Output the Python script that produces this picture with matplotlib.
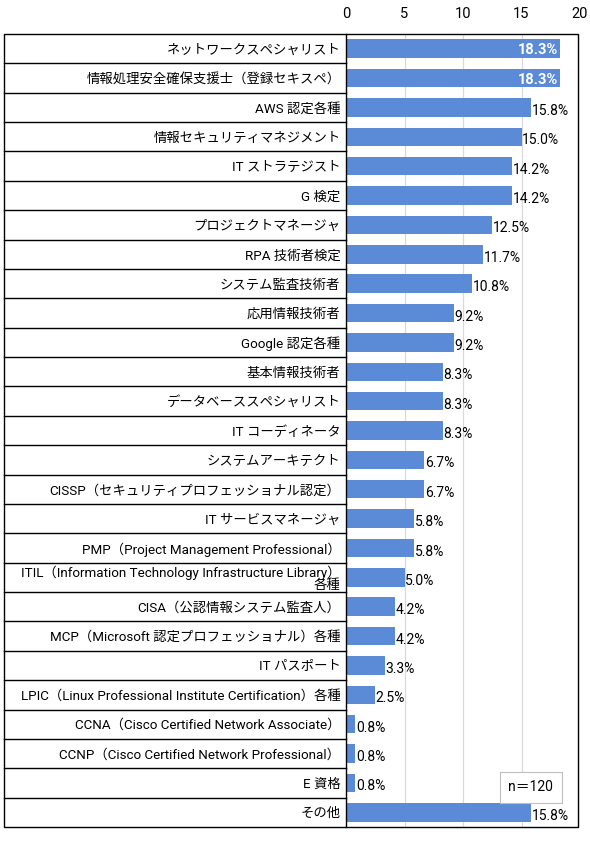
import matplotlib
matplotlib.use("Agg")
import matplotlib.pyplot as plt
from matplotlib.patches import Rectangle

plt.rcParams['font.family'] = ['Roboto', 'Noto Sans CJK JP', 'DejaVu Sans']

# 資格の名前と割合 (%)
labels = [
    "ネットワークスペシャリスト",
    "情報処理安全確保支援士（登録セキスペ）",
    "AWS 認定各種",
    "情報セキュリティマネジメント",
    "IT ストラテジスト",
    "G 検定",
    "プロジェクトマネージャ",
    "RPA 技術者検定",
    "システム監査技術者",
    "応用情報技術者",
    "Google 認定各種",
    "基本情報技術者",
    "データベーススペシャリスト",
    "IT コーディネータ",
    "システムアーキテクト",
    "CISSP（セキュリティプロフェッショナル認定）",
    "IT サービスマネージャ",
    "PMP（Project Management Professional）",
    "ITIL（Information Technology Infrastructure Library）\n各種",
    "CISA（公認情報システム監査人）",
    "MCP（Microsoft 認定プロフェッショナル）各種",
    "IT パスポート",
    "LPIC（Linux Professional Institute Certification）各種",
    "CCNA（Cisco Certified Network Associate）",
    "CCNP（Cisco Certified Network Professional）",
    "E 資格",
    "その他",
]
values = [18.3, 18.3, 15.8, 15.0, 14.2, 14.2, 12.5, 11.7, 10.8, 9.2, 9.2, 8.3, 8.3,
          8.3, 6.7, 6.7, 5.8, 5.8, 5.0, 4.2, 4.2, 3.3, 2.5, 0.8, 0.8, 0.8, 15.8]
xticks = [0, 5, 10, 15, 20]

W, H = 590, 847
fig = plt.figure(figsize=(W / 100, H / 100), dpi=100)
left, right, top, bottom = 346, 580, 34, 827
ax = fig.add_axes([left / W, 1 - bottom / H, (right - left) / W, (bottom - top) / H])

ypos = list(range(len(labels)))
ax.barh(ypos, values, height=0.63, color="#5b8bd6", zorder=2)
ax.set_ylim(len(labels) - 0.5, -0.5)
ax.set_xlim(0, 20)

ax.xaxis.tick_top()
ax.set_xticks(xticks)
ax.set_xticklabels([str(t) for t in xticks], fontsize=10.5)
ax.tick_params(axis="x", length=0, pad=9)
ax.grid(axis="x", color="#d9d9d9", linewidth=0.9, zorder=0)

ax.set_yticks(ypos)
ax.set_yticklabels(labels, fontsize=9.6, linespacing=0.95)
ax.tick_params(axis="y", length=0, pad=4)

for s in ["top", "right", "bottom"]:
    ax.spines[s].set_visible(False)
ax.spines["left"].set_color("black")
ax.spines["left"].set_linewidth(1.0)

# 数値ラベル
for i, v in enumerate(values):
    if v > 18:
        ax.text(v - 0.2, i + 0.05, f"{v:.1f}%", ha="right", va="center",
                color="white", fontsize=10.5, fontweight="bold", zorder=3)
    else:
        ax.text(v + 0.05, i + 0.12, f"{v:.1f}%", ha="left", va="center",
                color="black", fontsize=10, zorder=3)

# 左側の表の罫線
trans = ax.get_yaxis_transform()
x0 = (4 - left) / (right - left)
for i in range(len(labels) - 1):
    ax.plot([x0, 0], [i + 0.5, i + 0.5], transform=trans, color="black",
            linewidth=1.0, clip_on=False)

# 外枠
fig.patches.append(Rectangle((4 / W, 1 - bottom / H), (578 - 4) / W, (bottom - top) / H,
                             transform=fig.transFigure, fill=False,
                             edgecolor="black", linewidth=1.0))

ax.text(0.79, 25.15, "n＝120", ha="center", va="center", fontsize=10,
        transform=trans,
        bbox=dict(boxstyle="square,pad=0.6", facecolor="white", edgecolor="#bfbfbf",
                  linewidth=0.8))

fig.savefig("out.png", dpi=100)
